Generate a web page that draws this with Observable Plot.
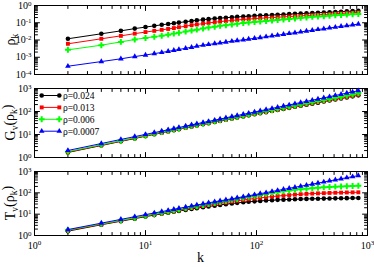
<!DOCTYPE html>
<html><head><meta charset="utf-8">
<script src="https://cdn.jsdelivr.net/npm/d3@7"></script>
<script src="https://cdn.jsdelivr.net/npm/@observablehq/plot@0.6"></script>
<style>
body{margin:0;background:#fff;}
#c{position:relative;width:374px;height:267px;overflow:hidden;}
#c svg{position:absolute;left:0;}
</style></head><body><div id="c"></div>
<script>
const k = [2,4,6,8,10,12,14,16,18,20,23,26,29,33,37,42,47,53,60,67,76,85,96,108,122,138,155,175,197,222,250,282,318,358,404,455,513,578,651,734,827];
const seriesNames = ["ρ=0.024","ρ=0.013","ρ=0.006","ρ=0.0007"];
const colors = ["#000000","#ff0000","#00ff00","#0000ff"];
const symbols = ["circle","square","cross","triangle"];
const symbolR = [2.3,2.2,2.5,2.1];

const rhoK_024 = [0.0118,0.0229,0.0339,0.0457,0.0562,0.0661,0.0759,0.0851,0.0933,0.102,0.115,0.126,0.138,0.151,0.162,0.174,0.186,0.195,0.209,0.219,0.229,0.240,0.251,0.260,0.269,0.282,0.292,0.302,0.316,0.327,0.339,0.351,0.363,0.380,0.394,0.407,0.422,0.437,0.457,0.473,0.490];
const rhoK_013 = [0.00603,0.01175,0.01738,0.02344,0.02884,0.0339,0.0389,0.0437,0.0490,0.0550,0.0631,0.0724,0.0794,0.0891,0.0977,0.107,0.117,0.126,0.135,0.145,0.155,0.162,0.174,0.182,0.191,0.200,0.209,0.219,0.229,0.240,0.251,0.263,0.275,0.288,0.302,0.316,0.331,0.347,0.363,0.380,0.398];
const rhoK_006 = [0.00269,0.00501,0.00776,0.01072,0.01318,0.01549,0.01778,0.02042,0.02344,0.0263,0.0309,0.0355,0.0398,0.0468,0.0525,0.0589,0.0661,0.0724,0.0794,0.0871,0.0955,0.102,0.110,0.117,0.126,0.135,0.145,0.155,0.166,0.178,0.191,0.204,0.219,0.229,0.240,0.257,0.269,0.282,0.295,0.309,0.324];
const rhoK_0007 = [0.000302,0.000562,0.000813,0.001096,0.001349,0.001622,0.001905,0.002188,0.002512,0.002818,0.003311,0.003802,0.004365,0.005012,0.005495,0.006166,0.006761,0.007586,0.008511,0.009333,0.01023,0.01122,0.01259,0.0138,0.01549,0.01738,0.01905,0.02138,0.02399,0.0263,0.0295,0.0331,0.0363,0.0407,0.0447,0.0501,0.0550,0.0617,0.0676,0.0759,0.0832];

const G_024 = [1.66,3.32,5.04,6.72,8.5,10.2,11.9,13.6,15.3,17.0,19.6,22.1,24.7,27.7,31.1,34.9,39.0,43.5,49.2,54.3,60.8,68.0,75.8,84.2,93.9,105,116,130,144,160,178,197,219,243,271,300,333,370,410,455,504];
const G_013 = [1.70,3.44,5.16,6.88,8.7,10.4,12.2,13.9,15.7,17.4,20.0,22.6,25.2,28.4,31.8,36.1,40.0,45.0,50.4,56.3,63.1,70.6,78.7,87.5,97.6,109,121,135,150,167,185,206,229,254,283,314,349,387,430,481,538];
const G_006 = [1.80,3.60,5.40,7.28,9.1,10.9,12.7,14.6,16.4,18.2,20.9,23.7,26.4,30.0,33.3,37.8,42.3,47.2,53.4,59.0,66.9,74.0,83.5,92.9,104,117,130,145,164,182,203,226,254,283,315,350,395,439,495,551,620];
const G_0007 = [2.02,4.05,6.1,8.1,10.1,12.1,14.1,16.1,18.2,20.2,23.2,26.2,29.2,33.2,37.1,42.1,47.1,53.0,60.0,66.8,75.6,84.2,95.0,107,121,136,153,172,193,218,245,275,310,349,392,441,498,561,631,712,802];

const T_024 = [1.60,3.20,4.68,6.17,7.67,9.02,10.4,11.6,12.9,14.1,15.8,17.6,19.1,21.1,22.9,25.1,27.2,29.5,31.6,33.9,35.9,38.0,39.8,41.7,43.7,45.2,46.8,47.9,49.0,50.1,51.3,51.9,52.5,53.1,53.7,54.3,55.0,55.6,56.2,56.9,57.5];
const T_013 = [1.70,3.31,4.90,6.46,8.13,9.66,11.1,12.6,14.0,15.5,17.6,19.5,21.4,24.0,26.3,29.2,32.0,35.1,38.9,42.2,46.2,50.1,54.3,58.2,62.4,66.8,70.8,75.0,78.5,82.2,86.1,89.1,92.3,94.4,96.6,98.9,101,102,104,105,106];
const T_006 = [1.80,3.50,5.13,6.76,8.5,10.1,11.7,13.3,15.0,16.6,19.1,21.4,23.7,26.9,29.9,33.5,37.2,41.7,46.8,51.9,58.2,64.6,71.6,79.4,88.1,97.7,107,117,127,138,148,157,166,174,182,188,195,200,204,209,214];
const T_0007 = [1.90,3.80,5.70,7.60,9.50,11.4,13.2,15.0,16.9,18.8,21.4,24.2,27.0,30.4,34.0,38.2,42.3,47.2,52.8,58.3,65.4,73.1,81.6,91.8,102,116,129,145,164,182,205,228,258,286,323,364,405,457,514,573,645];

const xMajor = [1,10,100,1000];
const xTickLabels = ["10^0","10^1","10^2","10^3"];
const yMajorTop = [1e-4,1e-3,1e-2,1e-1,1];
const yTickLabelsTop = ["10^-4","10^-3","10^-2","10^-1","10^0"];
const yMajor = [1,10,100,1000];
const yTickLabels = ["10^0","10^1","10^2","10^3"];

function minors(lo, hi){ const out=[]; for(let e=lo;e<hi;e++) for(let m=2;m<10;m++) out.push(m*Math.pow(10,e)); return out; }

const panels = [
  {top:0, height:80, mt:5, mb:6, yDomain:[1e-4,1], yMaj:yMajorTop, yLab:yTickLabelsTop, ylo:-4, yhi:0,
   series:[rhoK_024,rhoK_013,rhoK_006,rhoK_0007], title:[["ρ",0],["k",1]], xLabels:false, legend:false},
  {top:80, height:80, mt:8, mb:3, yDomain:[1,1000], yMaj:yMajor, yLab:yTickLabels, ylo:0, yhi:3,
   series:[G_024,G_013,G_006,G_0007], title:[["G",0],["v",1],["(ρ",0],["k",1],[")",0]], xLabels:false, legend:true},
  {top:160, height:107, mt:11, mb:32, yDomain:[1,1000], yMaj:yMajor, yLab:yTickLabels, ylo:0, yhi:3,
   series:[T_024,T_013,T_006,T_0007], title:[["T",0],["v",1],["(ρ",0],["k",1],[")",0]], xLabels:true, legend:false}
];

const tickShape = {draw(ctx, l){ ctx.moveTo(0,0); ctx.lineTo(0,-l); }};
const vt = (vals, chan, anchor, rotate, len) => Plot.vector(vals, {[chan]: d=>d, frameAnchor: anchor, rotate, length: len, anchor: "start", shape: tickShape, stroke: "black", strokeWidth: 1});

const container = document.getElementById("c");
const NS = "http://www.w3.org/2000/svg";
const FONT = "'Liberation Serif', serif";

function richText(parent, parts, size){
  const t = d3.select(parent);
  let sub = false;
  parts.forEach(([s, isSub])=>{
    const ts = t.append("tspan").text(s);
    if (isSub && !sub){ ts.attr("dy", "0.3em").attr("font-size", size*0.68); sub = true; }
    else if (isSub){ ts.attr("font-size", size*0.68); }
    else if (!isSub && sub){ ts.attr("dy", "-0.3em"); sub = false; }
  });
}

const symTypes = {circle:d3.symbolCircle, square:d3.symbolSquare, cross:d3.symbolCross, triangle:d3.symbolTriangle};

panels.forEach((p)=>{
  const xMin = minors(0,3);
  const yMin = minors(p.ylo, p.yhi);
  const marks = [
    Plot.frame({stroke:"black", strokeWidth:1}),
    vt(xMajor, "x", "bottom", 0, 5), vt(xMin, "x", "bottom", 0, 3),
    vt(xMajor, "x", "top", 180, 5), vt(xMin, "x", "top", 180, 3),
    vt(p.yMaj, "y", "left", 90, 5), vt(yMin, "y", "left", 90, 3),
    vt(p.yMaj, "y", "right", -90, 5), vt(yMin, "y", "right", -90, 3),
    Plot.text(p.yMaj, {y: d=>d, frameAnchor:"left", dx:-3, text:(d,i)=>p.yLab[i], textAnchor:"end", fontSize:10, fill:"black"})
  ];
  if (p.xLabels) marks.push(Plot.text(xMajor, {x: d=>d, frameAnchor:"bottom", dy:13, text:(d,i)=>xTickLabels[i], textAnchor:"middle", fontSize:10, fill:"black"}));
  p.series.forEach((s, si)=>{
    const rows = k.map((kk,i)=>({k:kk, v:s[i]}));
    marks.push(Plot.line(rows, {x:"k", y:"v", stroke:colors[si], strokeWidth:1}));
    marks.push(Plot.dot(rows, {x:"k", y:"v", symbol:symbols[si], fill:colors[si], r:symbolR[si], stroke:"none"}));
  });
  const svg = Plot.plot({
    width:374, height:p.height, marginTop:p.mt, marginBottom:p.mb, marginLeft:34, marginRight:7,
    x:{type:"log", domain:[1,1000], axis:null},
    y:{type:"log", domain:p.yDomain, axis:null},
    style:{fontFamily:FONT, background:"transparent", overflow:"visible", color:"black"},
    marks
  });
  svg.style.top = p.top + "px";
  svg.querySelectorAll("text").forEach(t=>{
    const s = t.textContent; const j = s.indexOf("^"); if (j < 0) return;
    t.textContent = s.slice(0,j);
    const ts = document.createElementNS(NS, "tspan");
    ts.setAttribute("dy","-0.45em"); ts.setAttribute("font-size","7"); ts.textContent = s.slice(j+1);
    t.appendChild(ts);
  });
  const sel = d3.select(svg);
  const cy = (p.mt + (p.height - p.mb))/2;
  const tt = sel.append("text").attr("transform", `translate(15,${cy}) rotate(-90)`).attr("text-anchor","middle")
    .attr("font-size", 14).attr("font-family",FONT).attr("fill","black");
  richText(tt.node(), p.title, 14);
  if (p.xLabels){
    sel.append("text").attr("x", (34+367)/2).attr("y", p.height - 5).attr("text-anchor","middle")
      .attr("font-size", 14).attr("font-family",FONT).attr("fill","black").text("k");
  }
  if (p.legend){
    const g = sel.append("g");
    seriesNames.forEach((name, i)=>{
      const y = 15.5 + i*11.9;
      g.append("line").attr("x1",41.7).attr("x2",59.3).attr("y1",y).attr("y2",y).attr("stroke",colors[i]).attr("stroke-width",1);
      const path = d3.symbol(symTypes[symbols[i]], Math.PI*symbolR[i]*symbolR[i])();
      [41.7, 59.3].forEach(x=>g.append("path").attr("d", path).attr("transform",`translate(${x},${y})`).attr("fill",colors[i]));
      g.append("text").attr("x",63).attr("y",y).attr("dy","0.35em").attr("font-size",9.5).attr("text-anchor","start")
        .attr("font-family",FONT).attr("fill","black").text(name);
    });
  }
  container.appendChild(svg);
});
</script></body></html>
